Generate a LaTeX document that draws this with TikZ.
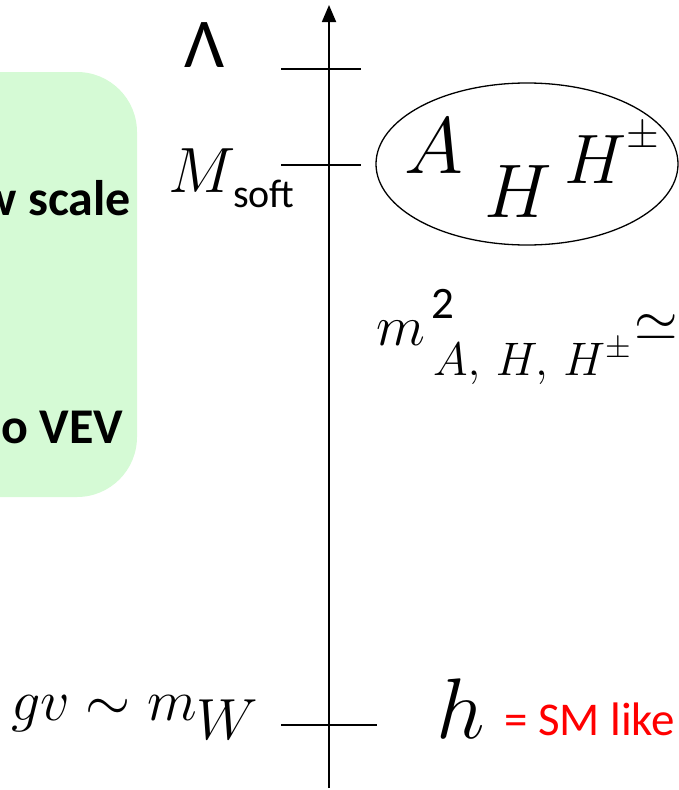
\documentclass[tikz,border=0pt]{standalone}
\usepackage{fix-cm}
\usepackage{fontspec}
\usetikzlibrary{arrows.meta,shapes.geometric}
\newfontfamily\calibrifont{Carlito}
\definecolor{lightgreen}{RGB}{213,250,213}
\newcommand{\bigsize}[1]{\fontsize{#1}{#1}\selectfont}

\begin{document}
\begin{tikzpicture}[x=1pt,y=-1pt,
    tick/.style={line width=1.8pt},
    lbl/.style={inner sep=0pt, outer sep=0pt},
    boxtext/.style={lbl, anchor=base east, font=\calibrifont\bfseries\bigsize{50}}]
  \useasboundingbox (0,0) rectangle (678,790);
  % green box, its left part runs off the page
  \fill[lightgreen, rounded corners=60pt] (-120,72) rectangle (137,497);
  \node[boxtext] (scaletxt) at (131,215) {w scale};
  \node[boxtext] (vevtxt) at (123,443) {o VEV};
  % energy axis
  \coordinate (axbot) at (329,788);
  \coordinate (axtop) at (329,5);
  \draw[line width=1.8pt, -{Triangle[length=17pt,width=14pt]}] (axbot) -- (axtop);
  % ticks
  \coordinate (lamL) at (281,69);   \coordinate (lamR) at (361,69);
  \coordinate (softL) at (281,165); \coordinate (softR) at (361,165);
  \coordinate (mwL) at (281,725);   \coordinate (mwR) at (377,725);
  \draw[tick] (lamL) -- (lamR);
  \draw[tick] (softL) -- (softR);
  \draw[tick] (mwL) -- (mwR);
  % scale labels
  \node[lbl, anchor=base, font=\calibrifont\bigsize{70}] (lam) at (205,67) {Λ};
  \node[lbl, anchor=base west, font=\bigsize{64}] (msoft) at (168,192) {$M$};
  \node[lbl, anchor=base west, font=\calibrifont\bigsize{40}] (softsub) at (233,207) {soft};
  \node[lbl, anchor=base west, font=\bigsize{58}] (gvmw) at (11,720) {$gv\sim m_{\textstyle W}$};
  % heavy states
  \node[draw, ellipse, line width=1.3pt, minimum width=302pt, minimum height=162pt, inner sep=0pt] (heavy) at (527,164) {};
  \node[lbl, anchor=base west, font=\bigsize{80}] (Aboson) at (404,173) {$A$};
  \node[lbl, anchor=base west, font=\bigsize{76}] (Hboson) at (484,217) {$H$};
  \node[lbl, anchor=base west, font=\bigsize{70}] (Hpm) at (564,183) {$H^{\raisebox{10pt}{\bigsize{42}$\pm$}}$};
  % their mass
  \node[lbl, anchor=base west, font=\bigsize{57}] (mass) at (376,345) {$m$};
  \node[lbl, anchor=base west, font=\calibrifont\bigsize{45}] (masssq) at (431,318) {2};
  \node[lbl, anchor=base west, font=\bigsize{47}] (masssub) at (433,375) {$A,\,H,\,H^{\pm}$};
  \node[lbl, anchor=base west, font=\bigsize{56}] (approx) at (634,340) {$\simeq$};
  % light state
  \node[lbl, anchor=base west, font=\bigsize{86}] (hboson) at (436,738) {$h$};
  \node[lbl, anchor=base west, text=red, font=\calibrifont\bigsize{47}] (smlike) at (504,735) {= SM like};
\end{tikzpicture}
\end{document}
